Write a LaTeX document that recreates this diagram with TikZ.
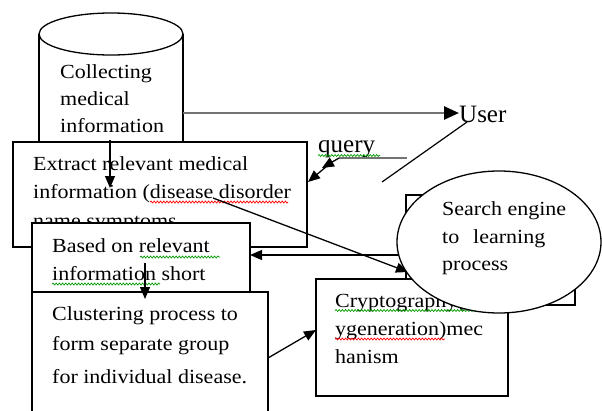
\documentclass[tikz,border=0pt]{standalone}
\usepackage{fontspec}
\setmainfont{Liberation Serif}
\newfontfamily\wide{Liberation Serif}[FakeStretch=1.1]
\usetikzlibrary{arrows.meta,shapes.geometric,decorations.pathmorphing}
\begin{document}
\begin{tikzpicture}[x=1pt,y=-1pt,
  box/.style={draw, line width=1.3pt, fill=white, rectangle, inner sep=0pt},
  txt/.style={anchor=base west, inner sep=0pt, font=\wide\fontsize{20}{24}\selectfont},
  bigtxt/.style={anchor=base west, inner sep=0pt, font=\fontsize{25}{30}\selectfont},
  conn/.style={line width=1.3pt, -{Triangle[length=12pt,width=10pt]}},
  plain/.style={line width=1.2pt},
  sqg/.style={decorate, decoration={snake, amplitude=1pt, segment length=3.2pt}, line width=0.7pt, green!60!black},
  sqr/.style={decorate, decoration={snake, amplitude=1pt, segment length=3.2pt}, line width=0.7pt, red}]
\useasboundingbox (0,0) rectangle (602,410);
\clip (0,0) rectangle (602,410);

% cylinder
\draw[line width=1.3pt, fill=white] (39,34) -- (39,142) -- (183,142) -- (183,34);
\draw[line width=1.3pt, fill=white] (111,34) ellipse [x radius=72, y radius=21];
\node[txt] (c1) at (60,78) {Collecting};
\node[txt] (c2) at (60,105) {medical};
\node[txt] (c3) at (60,132) {information};
\coordinate (cylR) at (183,113);
\coordinate (cylD) at (110,140);

% user
\node[bigtxt] (user) at (459,122) {User};
\coordinate (userIn) at (459,113);
\coordinate (userLine) at (467,122);
\coordinate (userEnd) at (382,182);

% query
\node[bigtxt] (query) at (318,152) {query};
\draw[sqg] (318,155.5) -- (380,155.5);

% extract box
\node[box, minimum width=294pt, minimum height=105pt] (extract) at (160,194.5) {};
\node[txt] (e1) at (33,170) {Extract relevant medical};
\node[txt] (e2) at (33,198) {information (disease disorder};
\node[txt] (e3) at (33,227) {name symptoms};
\draw[sqr] (150,202) -- (288,202);
\coordinate (dis) at (213,198);
\coordinate (cylDownEnd) at (110,188);

% based box
\node[box, minimum width=218pt, minimum height=69pt] (based) at (141,257.5) {};
\node[txt] (b1) at (52,252) {Based on relevant};
\node[txt] (b2) at (52,280) {information short};
\draw[sqg] (140,257) -- (220,257);
\draw[sqg] (52,284) -- (160,284);
\coordinate (basedDown) at (145,263);
\coordinate (basedIn) at (250,255);

% clustering box
\node[box, minimum width=236pt, minimum height=128pt] (clust) at (150,356) {};
\node[txt] (k1) at (52,320) {Clustering process to};
\node[txt] (k2) at (52,350) {form separate group};
\node[txt] (k3) at (52,383) {for individual disease.};
\coordinate (clustTop) at (145,299);
\coordinate (clustOut) at (268,358);

% hidden rectangle behind ellipse
\node[box, minimum width=169pt, minimum height=110pt] (hid) at (490.5,250) {};
\coordinate (hidOut) at (404,255);

% crypto box
\node[box, minimum width=192pt, minimum height=117pt] (crypto) at (412,337.5) {};
\node[txt] (y1) at (335,307) {Cryptography(ke};
\node[txt] (y2) at (335,335) {ygeneration)mec};
\node[txt] (y3) at (335,363) {hanism};
\draw[sqg] (335,310.5) -- (480,310.5);
\draw[sqr] (335,339) -- (445,339);
\coordinate (cryptoIn) at (316,330);

% query arrows
\coordinate (qStart) at (407,158);
\coordinate (qBend) at (339,158);
\coordinate (qMid) at (322,168);
\coordinate (qMid2) at (327,166);
\coordinate (qEnd) at (308,182);

% connectors
\draw[line width=2.6pt, black!55, -{Triangle[length=15pt,width=13pt,color=black]}] (cylR) -- (userIn);
\draw[plain] (userLine) -- (userEnd);
\draw[line width=1.8pt, black!55] (qStart) -- (qBend);
\draw[conn] (qBend) -- (qMid);
\draw[conn] (qMid2) -- (qEnd);
\draw[conn] (cylD) -- (cylDownEnd);
\draw[conn] (basedDown) -- (clustTop);
\draw[conn] (hidOut) -- (basedIn);
\draw[conn] (clustOut) -- (cryptoIn);
\coordinate (ellIn) at (408,272);
\draw[conn] (dis) -- (ellIn);

% ellipse
\node[draw, line width=1.3pt, fill=white, ellipse, minimum width=204pt, minimum height=142pt, inner sep=0pt] (search) at (499,242) {};
\node[txt] (s1) at (442,215) {Search engine};
\node[txt] (s2a) at (442,243) {to};
\node[txt] (s2b) at (473,243) {learning};
\node[txt] (s3) at (442,270) {process};
\end{tikzpicture}
\end{document}
